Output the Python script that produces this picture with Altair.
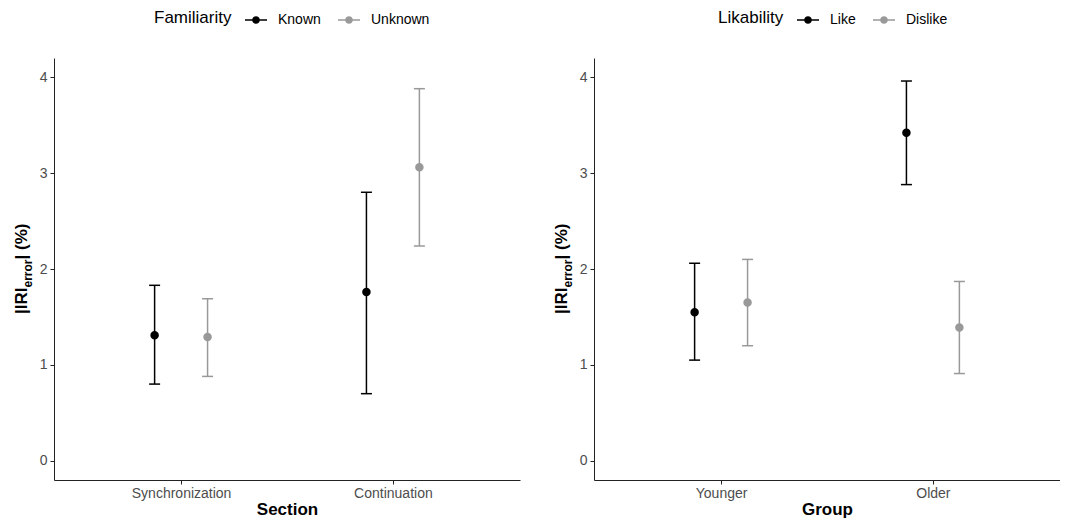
import json
import altair as alt
import pandas as pd

# ---- data ----
sections = ["Synchronization", "Continuation"]
familiarity = ["Known", "Unknown"]
sec_col = ["Synchronization", "Synchronization", "Continuation", "Continuation"]
fam_col = ["Known", "Unknown", "Known", "Unknown"]
fam_mean = [1.31, 1.29, 1.76, 3.06]
fam_lower = [0.80, 0.88, 0.70, 2.24]
fam_upper = [1.83, 1.69, 2.80, 3.88]

groups = ["Younger", "Older"]
likability = ["Like", "Dislike"]
grp_col = ["Younger", "Younger", "Older", "Older"]
lik_col = ["Like", "Dislike", "Like", "Dislike"]
lik_mean = [1.55, 1.65, 3.42, 1.39]
lik_lower = [1.05, 1.20, 2.88, 0.91]
lik_upper = [2.06, 2.10, 3.96, 1.87]

y_ticks = [0, 1, 2, 3, 4]
ytitle_parts = ["|IRI", "error", "| (%)"]

df1 = pd.DataFrame({"Section": sec_col, "Familiarity": fam_col,
                    "mean": fam_mean, "lower": fam_lower, "upper": fam_upper})
df2 = pd.DataFrame({"Group": grp_col, "Likability": lik_col,
                    "mean": lik_mean, "lower": lik_lower, "upper": lik_upper})

FONT = "Liberation Sans"
W, H = 466, 422
DODGE = 0.25
COLORS = ["#000000", "#999999"]
SYMBOL = "M-1,0L1,0M0.28,0A0.28,0.28,0,1,1,-0.28,0A0.28,0.28,0,1,1,0.28,0Z"


def panel(df, xfield, gfield, xdomain, gdomain, xtitle, legx):
    yscale = alt.Scale(domain=[-0.2, 4.2], nice=False, zero=False)
    yaxis = alt.Axis(title=None, values=y_ticks, format="d", grid=False, labelFontSize=14,
                     labelColor="#4d4d4d", labelFont=FONT, labelPadding=3,
                     tickSize=4, tickColor="#222222", domainColor="#222222",
                     domainWidth=1, tickWidth=1)
    xscale = alt.Scale(domain=[0.4, len(xdomain) + 0.6], nice=False, zero=False)
    xaxis = alt.Axis(title=xtitle, values=list(range(1, len(xdomain) + 1)),
                     labelExpr=f"{json.dumps(xdomain)}[datum.value - 1]",
                     grid=False, labelAngle=0, labelFontSize=14,
                     labelColor="#4d4d4d", labelFont=FONT, labelPadding=2,
                     tickSize=4, tickColor="#222222", domainColor="#222222",
                     domainWidth=1, tickWidth=1,
                     titleFontSize=17, titleFontWeight="bold", titleFont=FONT,
                     titleColor="#000000", titlePadding=1)
    cscale = alt.Scale(domain=gdomain, range=COLORS)

    def leg():
        return alt.Legend(orient="none", legendX=legx, legendY=-50, direction="horizontal",
                          title=gfield, titleOrient="left", titleFontSize=17,
                          titleFontWeight="normal", titleFont=FONT, titleColor="#000000",
                          titleBaseline="middle", titlePadding=12, padding=0,
                          labelFontSize=14, labelFont=FONT, labelColor="#000000",
                          symbolType=SYMBOL, symbolSize=484, symbolStrokeWidth=1.5,
                          symbolOpacity=1, labelOffset=10, columnPadding=14)

    def fill():
        return alt.Fill(f"{gfield}:N", scale=cscale, legend=leg())

    def stroke():
        return alt.Stroke(f"{gfield}:N", scale=cscale, legend=leg())

    base = alt.Chart(df).transform_calculate(
        xpos=f"indexof({json.dumps(xdomain)}, datum['{xfield}']) + 1"
             f" + (indexof({json.dumps(gdomain)}, datum['{gfield}']) - 0.5) * {DODGE}"
    ).encode(x=alt.X("xpos:Q", scale=xscale, axis=xaxis))
    rules = base.mark_rule(strokeWidth=1.5).encode(
        y=alt.Y("lower:Q", scale=yscale, axis=yaxis), y2="upper:Q", stroke=stroke())
    cap_lo = base.mark_tick(size=11, thickness=1.5, opacity=1, orient="horizontal").encode(
        y="lower:Q", fill=fill())
    cap_hi = base.mark_tick(size=11, thickness=1.5, opacity=1, orient="horizontal").encode(
        y="upper:Q", fill=fill())
    pts = base.mark_point(filled=True, opacity=1, size=42, shape="circle").encode(
        y="mean:Q", fill=fill(), stroke=stroke())

    ty = H / 2 + 45
    t1 = alt.Chart(pd.DataFrame({"t": [ytitle_parts[0]]})).mark_text(
        angle=270, align="left", baseline="alphabetic", font=FONT, fontSize=17,
        fontWeight="bold", color="#000000").encode(
        text="t:N", x=alt.value(-27), y=alt.value(ty))
    t2 = alt.Chart(pd.DataFrame({"t": [ytitle_parts[1]]})).mark_text(
        angle=270, align="left", baseline="alphabetic", font=FONT, fontSize=12,
        fontWeight="bold", color="#000000", dx=26.5, dy=5).encode(
        text="t:N", x=alt.value(-27), y=alt.value(ty))
    t3 = alt.Chart(pd.DataFrame({"t": [ytitle_parts[2]]})).mark_text(
        angle=270, align="left", baseline="alphabetic", font=FONT, fontSize=17,
        fontWeight="bold", color="#000000", dx=54.5).encode(
        text="t:N", x=alt.value(-27), y=alt.value(ty))

    return alt.layer(rules, cap_lo, cap_hi, pts, t1, t2, t3).properties(width=W, height=H)


left = panel(df1, "Section", "Familiarity", sections, familiarity, "Section", 100)
right = panel(df2, "Group", "Likability", groups, likability, "Group", 124)

chart = (
    alt.hconcat(left, right, spacing=33)
    .resolve_scale(fill="independent", stroke="independent")
    .resolve_legend(fill="independent", stroke="independent")
    .configure_view(stroke=None)
    .properties(padding={"left": 5, "right": 0, "top": 0, "bottom": 4})
)

chart.save("out.html", embed_options={"renderer": "svg", "actions": False})
